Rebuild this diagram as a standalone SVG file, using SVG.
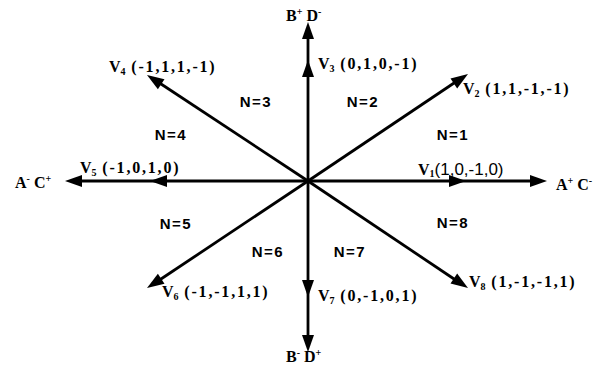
<svg xmlns="http://www.w3.org/2000/svg" width="606" height="365" viewBox="0 0 606 365">
<style>
.ln{stroke:#000;stroke-width:2.8;fill:none}
.ah{fill:#000}
.v{font-family:"Liberation Serif",serif;font-weight:bold;font-size:16px;fill:#000}
.c{letter-spacing:1.8px}
.s{font-size:10px}
.n{font-family:"Liberation Sans",Arial,sans-serif;font-weight:bold;font-size:15px;letter-spacing:1.5px;fill:#000}
.ax{font-family:"Liberation Serif",serif;font-weight:bold;font-size:16px;fill:#000}
.sup{font-size:10px}
</style>
<defs>
<path id="head" d="M0,0 L-17,-6 L-17,6 Z"/>
</defs>
<rect width="606" height="365" fill="#fff"/>
<g id="connectors">
<line class="ln" x1="308" y1="181" x2="308" y2="30"/>
<line class="ln" x1="308" y1="181" x2="308" y2="345"/>
<line class="ln" x1="308" y1="181" x2="72" y2="181"/>
<line class="ln" x1="308" y1="181" x2="540" y2="181"/>
<line class="ln" x1="308" y1="181" x2="460" y2="79"/>
<line class="ln" x1="308" y1="181" x2="155" y2="80"/>
<line class="ln" x1="308" y1="181" x2="155" y2="283"/>
<line class="ln" x1="308" y1="181" x2="460" y2="283"/>
<use href="#head" class="ah" transform="translate(308,22) rotate(-90)"/>
<use href="#head" class="ah" transform="translate(308,60) rotate(-90)"/>
<use href="#head" class="ah" transform="translate(308,352) rotate(90)"/>
<use href="#head" class="ah" transform="translate(308,297) rotate(90)"/>
<use href="#head" class="ah" transform="translate(65,181) rotate(180)"/>
<use href="#head" class="ah" transform="translate(150,181) rotate(180)"/>
<use href="#head" class="ah" transform="translate(547,181)"/>
<use href="#head" class="ah" transform="translate(466,181)"/>
<use href="#head" class="ah" transform="translate(468,74) rotate(-33.6)"/>
<use href="#head" class="ah" transform="translate(147,75) rotate(213.4)"/>
<use href="#head" class="ah" transform="translate(147,288) rotate(146.6)"/>
<use href="#head" class="ah" transform="translate(468,288) rotate(33.6)"/>
</g>
<g id="axis-labels">
<text class="ax" x="286" y="21">B<tspan class="sup" dy="-6">+</tspan><tspan dy="6"> D</tspan><tspan class="sup" dy="-6">-</tspan></text>
<text class="ax" x="286" y="362">B<tspan class="sup" dy="-6">-</tspan><tspan dy="6"> D</tspan><tspan class="sup" dy="-6">+</tspan></text>
<text class="ax" x="15" y="188">A<tspan class="sup" dy="-6">-</tspan><tspan dy="6"> C</tspan><tspan class="sup" dy="-6">+</tspan></text>
<text class="ax" x="556" y="190">A<tspan class="sup" dy="-6">+</tspan><tspan dy="6"> C</tspan><tspan class="sup" dy="-6">-</tspan></text>
</g>
<g id="V1"><text class="v" x="418" y="175">V<tspan class="s" dy="2">1</tspan><tspan dy="-2" style="font-family:'Liberation Sans',Arial,sans-serif;font-weight:normal;font-size:17px">(1,0,-1,0)</tspan></text></g>
<g id="V2"><text class="v" x="463" y="94">V<tspan class="s" dy="3">2</tspan><tspan class="c" dy="-3"> (1,1,-1,-1)</tspan></text></g>
<g id="V3"><text class="v" x="318" y="69">V<tspan class="s" dy="3">3</tspan><tspan class="c" dy="-3"> (0,1,0,-1)</tspan></text></g>
<g id="V4"><text class="v" x="109" y="72">V<tspan class="s" dy="3">4</tspan><tspan class="c" dy="-3"> (-1,1,1,-1)</tspan></text></g>
<g id="V5"><text class="v" x="80" y="173">V<tspan class="s" dy="3">5</tspan><tspan class="c" dy="-3"> (-1,0,1,0)</tspan></text></g>
<g id="V6"><text class="v" x="162" y="297">V<tspan class="s" dy="3">6</tspan><tspan class="c" dy="-3"> (-1,-1,1,1)</tspan></text></g>
<g id="V7"><text class="v" x="318" y="301">V<tspan class="s" dy="3">7</tspan><tspan class="c" dy="-3"> (0,-1,0,1)</tspan></text></g>
<g id="V8"><text class="v" x="469" y="287">V<tspan class="s" dy="3">8</tspan><tspan class="c" dy="-3"> (1,-1,-1,1)</tspan></text></g>
<g id="sectors" text-anchor="middle">
<text class="n" x="453" y="140">N=1</text>
<text class="n" x="363" y="107">N=2</text>
<text class="n" x="256" y="107">N=3</text>
<text class="n" x="171" y="140">N=4</text>
<text class="n" x="176" y="229">N=5</text>
<text class="n" x="268" y="257">N=6</text>
<text class="n" x="350" y="257">N=7</text>
<text class="n" x="453" y="228">N=8</text>
</g>
</svg>
